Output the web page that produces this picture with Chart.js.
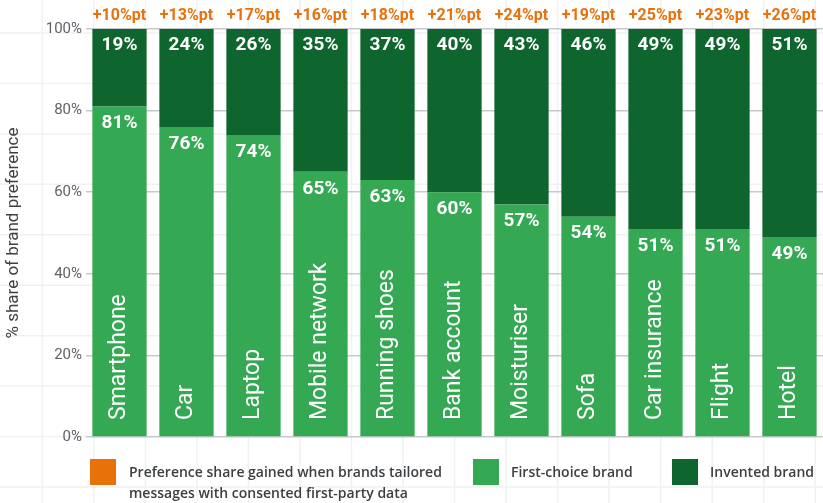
<!DOCTYPE html>
<html lang="en">
  <head>
    <meta charset="UTF-8" />
    <title>Brand preference</title>
    <script src="https://cdn.jsdelivr.net/npm/chart.js"></script>
    <style>
      html, body { margin: 0; padding: 0; background: #fff; }
      #wrap { position: relative; width: 823px; height: 503px; }
      #legend { position: absolute; left: 0; top: 0; width: 823px; height: 503px; pointer-events: none;
        font-family: "Open Sans", Roboto, sans-serif; font-size: 14px; font-weight: 600; line-height: 21px; color: #3c4043; }
      .sw { position: absolute; width: 26px; height: 26px; top: 459px; }
      .lt { position: absolute; top: 461px; white-space: nowrap; }
    </style>
  </head>
  <body>
    <div id="wrap">
      <canvas id="chart" width="823" height="503"></canvas>
      <div id="legend"></div>
    </div>

    <script>
      const categories = ["Smartphone", "Car", "Laptop", "Mobile network", "Running shoes",
        "Bank account", "Moisturiser", "Sofa", "Car insurance", "Flight", "Hotel"];
      const firstChoice = [81, 76, 74, 65, 63, 60, 57, 54, 51, 51, 49];
      const invented = [19, 24, 26, 35, 37, 40, 43, 46, 49, 49, 51];
      const gained = [10, 13, 17, 16, 18, 21, 24, 19, 25, 23, 26];
      const yTicks = [0, 20, 40, 60, 80, 100];

      const ORANGE = "#e8710a";
      const GREEN = "#34a853";
      const DARK = "#0f652e";
      const FONT = "Roboto, 'Noto Sans', sans-serif";

      const legendItems = [
        { color: ORANGE, text: "Preference share gained when brands tailored<br>messages with consented first-party data", box: 90, txt: 129 },
        { color: GREEN, text: "First-choice brand", box: 473, txt: 511 },
        { color: DARK, text: "Invented brand", box: 672, txt: 710 },
      ];
      const legend = document.getElementById("legend");
      legendItems.forEach((it) => {
        legend.insertAdjacentHTML("beforeend",
          `<div class="sw" style="left:${it.box}px;background:${it.color}"></div>` +
          `<div class="lt" style="left:${it.txt}px">${it.text}</div>`);
      });

      // faint graph-paper background
      const paper = {
        id: "paper",
        beforeDraw(chart) {
          const c = chart.ctx;
          c.save();
          c.fillStyle = "#fff";
          c.fillRect(0, 0, chart.width, chart.height);
          c.strokeStyle = "#f1f1f1";
          c.lineWidth = 1.5;
          for (let x = 42.3; x < chart.width; x += 51.53) {
            c.beginPath(); c.moveTo(x, 0); c.lineTo(x, chart.height); c.stroke();
          }
          for (let y = 33; y < chart.height; y += 50.44) {
            c.beginPath(); c.moveTo(0, y); c.lineTo(chart.width, y); c.stroke();
          }
          c.restore();
        },
      };

      const labels = {
        id: "labels",
        afterDatasetsDraw(chart) {
          const c = chart.ctx;
          const xs = chart.scales.x, ys = chart.scales.y;
          c.save();
          categories.forEach((name, i) => {
            const x = xs.getPixelForValue(i);
            // gained label on top
            c.fillStyle = ORANGE;
            c.font = "bold 16px " + FONT;
            c.textAlign = "center";
            c.textBaseline = "middle";
            c.fillText("+" + gained[i] + "%pt", x, ys.getPixelForValue(100) - 13);
            // segment values
            c.fillStyle = "#fff";
            c.font = "bold 19px " + FONT;
            c.fillText(invented[i] + "%", x, ys.getPixelForValue(100) + 16);
            c.fillText(firstChoice[i] + "%", x, ys.getPixelForValue(firstChoice[i]) + 17);
            // category name, rotated
            c.save();
            c.translate(x, ys.getPixelForValue(0) - 17);
            c.rotate(-Math.PI / 2);
            c.font = "23px " + FONT;
            c.textAlign = "left";
            c.fillText(name, 0, 0);
            c.restore();
          });
          c.restore();
        },
      };

      new Chart(document.getElementById("chart"), {
        type: "bar",
        data: {
          labels: categories,
          datasets: [
            { label: "First-choice brand", data: firstChoice, backgroundColor: GREEN },
            { label: "Invented brand", data: invented, backgroundColor: DARK },
          ],
        },
        plugins: [paper, labels],
        options: {
          responsive: false,
          animation: false,
          events: [],
          layout: { padding: { top: 29, bottom: 66, left: 0, right: -2 } },
          datasets: { bar: { categoryPercentage: 1, barPercentage: 0.81 } },
          scales: {
            x: { stacked: true, display: false },
            y: {
              stacked: true,
              min: 0,
              max: 100,
              afterBuildTicks(s) { s.ticks = yTicks.map((v) => ({ value: v })); },
              afterFit(s) { s.width = 86; },
              border: { display: false },
              grid: { color: "#c6c9cc", lineWidth: 1.5, drawTicks: false },
              ticks: {
                padding: 4,
                color: "#5f6368",
                font: { family: FONT, size: 15 },
                callback: (v) => v + "%",
              },
              title: {
                display: true,
                text: "% share of brand preference",
                color: "#3c4043",
                font: { family: FONT, size: 17 },
                padding: { top: 4, bottom: 0 },
              },
            },
          },
          plugins: { legend: { display: false }, tooltip: { enabled: false } },
        },
      });
    </script>
  </body>
</html>
